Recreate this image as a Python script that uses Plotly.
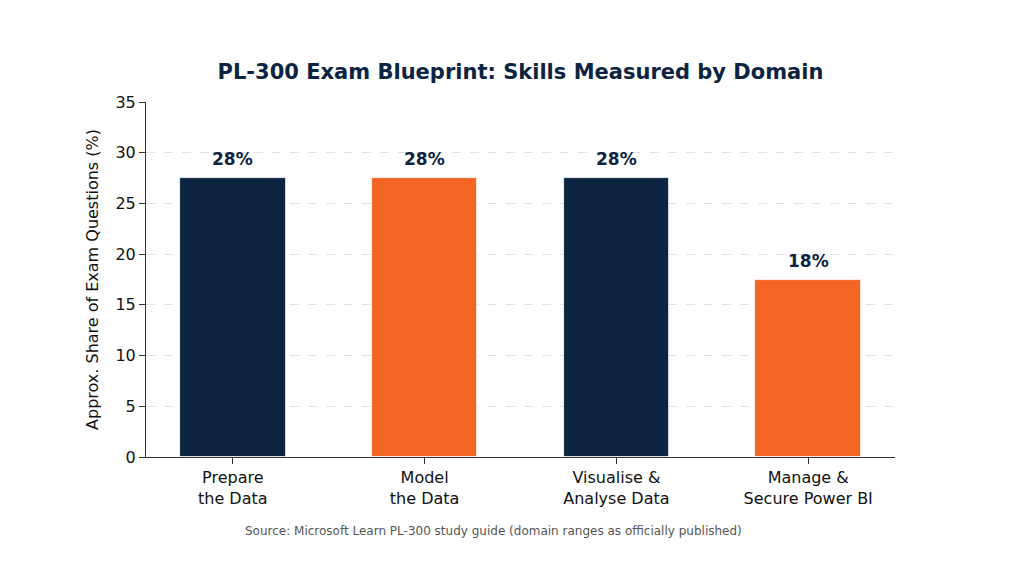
import plotly.graph_objects as go

NAVY = "#0c2442"
ORANGE = "#f26522"

domains = ["Prepare<br>the Data", "Model<br>the Data", "Visualise &<br>Analyse Data", "Manage &<br>Secure Power BI"]
share = [27.5, 27.5, 27.5, 17.5]
bar_colors = [NAVY, ORANGE, NAVY, ORANGE]
y_ticks = [0, 5, 10, 15, 20, 25, 30, 35]

FONT = "DejaVu Sans"

# the page body adds an 8px offset, so margins are shifted to compensate
L, T = 138, 94
PLOT_W, PLOT_H = 749, 355


def main():
    fig = go.Figure()
    fig.add_trace(
        go.Bar(
            x=list(range(len(domains))),
            y=share,
            width=0.55,
            marker=dict(color=bar_colors, line=dict(color="white", width=0.8)),
            hoverinfo="skip",
        )
    )

    # value labels above each bar
    for i, v in enumerate(share):
        fig.add_annotation(
            x=i, y=v, text=f"{v:.0f}%", showarrow=False,
            yshift=19, font=dict(family=FONT, size=17, color=NAVY, weight="bold"),
        )

    fig.add_annotation(
        text="Source: Microsoft Learn PL-300 study guide (domain ranges as officially published)",
        xref="paper", yref="paper", x=0.464, y=-0.2085,
        xanchor="center", yanchor="middle", showarrow=False,
        font=dict(family=FONT, size=12, color="#555555"),
    )

    fig.update_layout(
        width=1022, height=568,
        margin=dict(l=L, r=1022 - L - PLOT_W, t=T, b=568 - T - PLOT_H),
        paper_bgcolor="white", plot_bgcolor="white",
        showlegend=False,
        font=dict(family=FONT, size=16, color="#111111"),
        title=dict(
            text="<b>PL-300 Exam Blueprint: Skills Measured by Domain</b>",
            x=0.5, xref="paper", y=1 - 64 / 568, yanchor="middle",
            font=dict(family=FONT, size=21, color=NAVY),
        ),
        bargap=0,
    )
    fig.update_xaxes(
        range=[-0.4525, 3.4525],
        tickmode="array", tickvals=list(range(len(domains))), ticktext=domains,
        ticks="outside", ticklen=6, tickcolor="#333333",
        showline=True, linecolor="#333333", linewidth=1,
        showgrid=False, zeroline=False,
        tickfont=dict(family=FONT, size=16, color="#111111"),
    )
    fig.update_yaxes(
        range=[0, 35],
        tickmode="array", tickvals=y_ticks,
        ticks="outside", ticklen=6, tickcolor="#333333",
        showline=True, linecolor="#333333", linewidth=1,
        showgrid=True, gridcolor="rgba(190,190,190,0.45)", griddash="dash", gridwidth=1,
        zeroline=False, layer="above traces",
        title=dict(text="Approx. Share of Exam Questions (%)", standoff=12,
                   font=dict(family=FONT, size=16, color="#111111")),
        tickfont=dict(family=FONT, size=16, color="#111111"),
    )

    fig.write_html("out.html")


if __name__ == "__main__":
    main()
